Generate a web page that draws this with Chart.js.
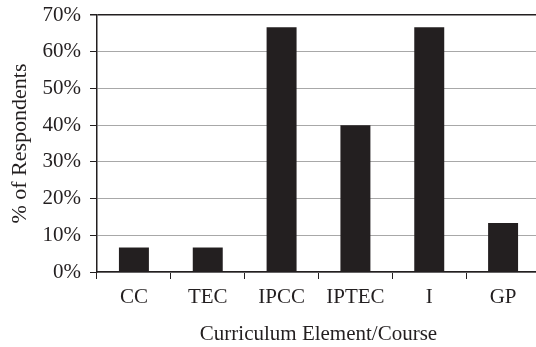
<!DOCTYPE html>
<html>
<head>
<meta charset="utf-8">
<title>Curriculum Element/Course</title>
<script src="https://cdn.jsdelivr.net/npm/chart.js@4/dist/chart.umd.min.js"></script>
<style>
    html, body { margin: 0; padding: 0; background: #fff; overflow: hidden; }
    #wrap { width: 541px; height: 347px; }
</style>
</head>
<body>
<div id="wrap"><canvas id="barChart" width="541" height="347"></canvas></div>
<script>
"use strict";

// Data (15 respondents -> 1/15, 10/15, 6/15, 2/15)
var categories = ["CC", "TEC", "IPCC", "IPTEC", "I", "GP"];
var respondentPct = [6.67, 6.67, 66.67, 40, 66.67, 13.33];
var yTicks = [0, 10, 20, 30, 40, 50, 60, 70];

var ink = "#231f20";
var gridGrey = "#a8a8a8";
var serif = "'Liberation Serif', 'Times New Roman', serif";

var barChart = document.getElementById("barChart");

var data = {
    labels: categories,
    datasets: [
        {
            label: "% of Respondents",
            data: respondentPct,
            backgroundColor: ink,
            borderWidth: 0,
            barPercentage: 0.406,
            categoryPercentage: 1.0
        }
    ]
};

var myBarChart = new Chart(barChart, {
    type: "bar",
    data: data,
    options: {
        responsive: false,
        animation: false,
        devicePixelRatio: 1,
        layout: { padding: { top: 15, right: 1, bottom: 0, left: 0 } },
        plugins: {
            legend: { display: false },
            tooltip: { enabled: false }
        },
        scales: {
            x: {
                afterFit: function(scale) { scale.height = 75; },
                border: { display: true, color: ink, width: 1.5 },
                grid: {
                    offset: true,
                    drawOnChartArea: false,
                    drawTicks: true,
                    tickLength: 7,
                    tickColor: ink,
                    tickWidth: 1
                },
                ticks: {
                    color: ink,
                    padding: 6,
                    font: { family: serif, size: 21 }
                },
                title: {
                    display: true,
                    text: "Curriculum Element/Course",
                    color: ink,
                    padding: { top: 0, bottom: 0 },
                    font: { family: serif, size: 21 }
                }
            },
            y: {
                min: 0,
                max: 70,
                afterFit: function(scale) {
                    scale.width = 97;
                    // keep the tick labels from pushing the plot area down
                    scale.paddingTop = 0;
                    scale.paddingBottom = 0;
                },
                afterBuildTicks: function(scale) {
                    scale.ticks = yTicks.map(function(v) { return { value: v }; });
                },
                border: { display: true, color: ink, width: 1.5 },
                grid: {
                    color: function(ctx) {
                        // top of the plot area is a dark frame line, the rest are grey
                        return ctx.tick && ctx.tick.value === 70 ? ink : gridGrey;
                    },
                    lineWidth: function(ctx) {
                        return ctx.tick && ctx.tick.value === 70 ? 1.5 : 1;
                    },
                    drawTicks: true,
                    tickLength: 7,
                    tickColor: ink
                },
                ticks: {
                    color: ink,
                    padding: 9,
                    font: { family: serif, size: 21 },
                    callback: function(value) { return value + "%"; }
                },
                title: {
                    display: true,
                    text: "% of Respondents",
                    color: ink,
                    padding: { top: 7, bottom: 0 },
                    font: { family: serif, size: 22 }
                }
            }
        }
    }
});
</script>
</body>
</html>
